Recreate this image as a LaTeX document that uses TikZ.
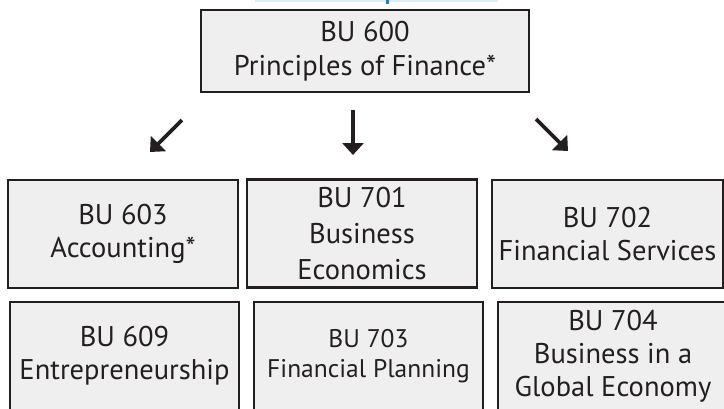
\documentclass[tikz,border=0pt]{standalone}
\usepackage{fontspec}
\setmainfont{PT Sans}
\usepackage{xcolor}
\definecolor{base00}{HTML}{231f20}
\definecolor{base01}{HTML}{efefef}
\definecolor{base02}{HTML}{dcedf8}
\definecolor{base09}{HTML}{1f7fc3}
\usepackage{tikz}
\usetikzlibrary{arrows.meta, positioning}
\tikzset{
    course/.style={
        rectangle, draw=base00, fill=base01,
        line width=2.8pt,
        inner sep=0pt,
        minimum width=230pt,
        minimum height=108pt,
        align=center,
        text=base00,
        font=\fontsize{28.5}{33}\selectfont
    },
    core/.style={
        course,
        minimum width=328pt,
        minimum height=82pt,
        font=\fontsize{28.5}{34}\selectfont
    },
    conn/.style={
        line width=3.6pt, base00,
        -{Triangle[length=12pt,width=21pt]},
    },
}

\begin{document}
\begin{tikzpicture}[x=1pt,y=-1pt]
        \useasboundingbox (0,0) rectangle (724,408);
        \clip (0,0) rectangle (724,408);
        \fill[base02] (255,0) rectangle (498,2);
        \fill[base09] (386,0) rectangle (389,4);

        \node[core] (fin600) at (365,51) {BU 600\\Principles of Finance*};

        \node[course] (acc603) at (123,234) {BU 603\\Accounting*};
        \node[course, font=\fontsize{28.5}{36}\selectfont] (eco701) at (362,233.5) {BU 701\\Business\\Economics};
        \node[course, minimum width=231pt] (svc702) at (607.5,234) {BU 702\\Financial Services};

        \node[course, minimum width=229pt] (ent609) at (124.5,356) {BU 609\\Entrepreneurship};
        \node[course, minimum width=229pt, font=\fontsize{25.5}{30}\selectfont] (plan703) at (368.5,356) {BU 703\\Financial Planning};
        \node[course] (glob704) at (613,356) {BU 704\\Business in a\\Global Economy};

        \coordinate (l0) at (182,120);
        \coordinate (l1) at (150,152);
        \coordinate (m0) at (353,110);
        \coordinate (m1) at (353,155);
        \coordinate (r0) at (536,119);
        \coordinate (r1) at (568,151);

        \draw[conn] (l0) -- (l1);
        \draw[conn] (m0) -- (m1);
        \draw[conn] (r0) -- (r1);
    \end{tikzpicture}
\end{document}
